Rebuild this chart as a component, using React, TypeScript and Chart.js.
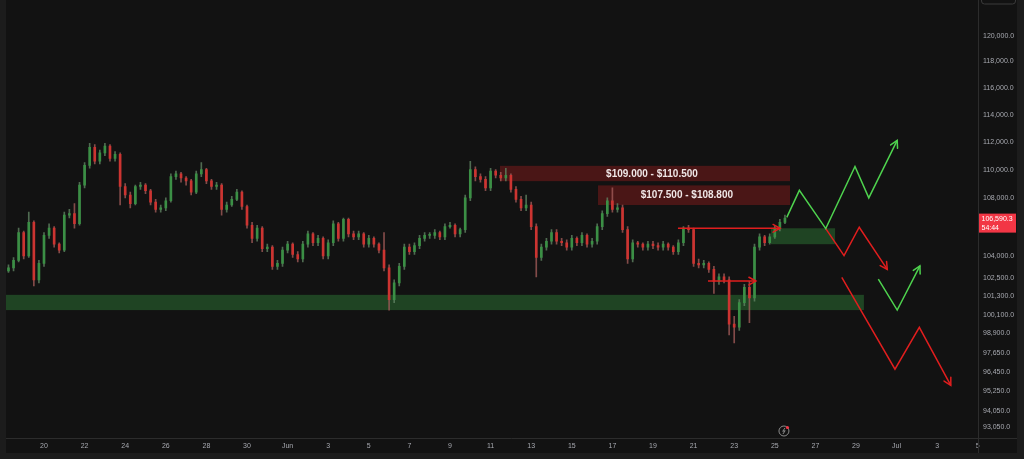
import React, { useEffect, useRef } from "react";
import { Chart, registerables } from "chart.js";

Chart.register(...registerables);

// ---------- data ----------
// candles: 6h bars, prices in thousands of USD; time = days from 20 May 00:00
const candleStartDay = -1.75;
const candleStepDays = 0.25;

const opens = [
  103.0, 103.2, 103.7, 105.6, 104.0, 106.3, 102.4, 103.5, 105.4, 105.9,
  104.8, 104.4, 106.8, 106.9, 106.2, 108.9, 110.3, 111.6, 110.6, 111.2,
  111.7, 110.8, 111.1, 108.8, 108.2, 107.6, 108.8, 108.9, 108.5, 107.7,
  107.2, 107.3, 107.8, 109.5, 109.7, 109.4, 109.2, 108.4, 109.7, 110.0,
  109.2, 108.8, 108.9, 107.2, 107.5, 107.9, 108.4, 107.4, 106.1, 105.2,
  105.9, 104.5, 104.6, 103.3, 103.5, 104.4, 104.8, 104.1, 103.8, 104.8,
  105.5, 104.9, 105.2, 104.0, 104.9, 106.2, 105.2, 106.5, 105.5, 105.3,
  105.5, 104.8, 105.2, 104.8, 104.4, 103.2, 101.1, 102.2, 103.3, 104.6,
  104.3, 104.7, 105.2, 105.4, 105.4, 105.6, 105.3, 106.0, 106.1, 105.5,
  105.8, 108.0, 110.0, 109.5, 109.3, 108.7, 109.9, 109.6, 109.4, 109.6,
  108.6, 107.9, 107.3, 107.5, 106.0, 103.9, 104.6, 105.0, 105.6, 105.0,
  104.9, 104.6, 105.2, 104.9, 105.4, 104.8, 105.0, 106.0, 106.9, 107.8,
  107.2, 107.3, 105.8, 103.8, 104.9, 104.8, 104.6, 104.8, 104.7, 104.6,
  104.8, 104.6, 104.3, 104.9, 105.9, 105.8, 103.5, 103.4, 103.5, 103.1,
  102.3, 102.6, 102.4, 99.5, 99.3, 100.9, 101.9, 101.2, 104.6, 105.3,
  104.9, 105.3, 105.9, 106.3,
];
const highs = [
  103.4, 103.9, 105.9, 105.7, 107.0, 106.4, 103.7, 105.6, 106.2, 106.0,
  104.9, 107.0, 107.2, 107.6, 109.1, 110.5, 111.9, 111.8, 111.4, 111.9,
  111.8, 111.3, 111.2, 109.0, 108.4, 108.9, 109.1, 109.0, 108.6, 107.9,
  107.5, 108.0, 109.7, 109.9, 109.8, 109.5, 109.3, 109.9, 110.5, 110.1,
  109.3, 109.1, 109.0, 107.7, 108.1, 108.6, 108.5, 107.5, 106.3, 106.1,
  106.0, 104.8, 104.7, 103.7, 104.6, 105.0, 104.9, 104.3, 105.0, 105.7,
  105.6, 105.4, 105.3, 105.1, 106.4, 106.3, 106.6, 106.6, 105.7, 105.7,
  105.6, 105.4, 105.3, 104.9, 105.6, 103.4, 102.4, 103.5, 104.8, 104.8,
  104.9, 105.4, 105.6, 105.6, 105.8, 105.7, 106.2, 106.3, 106.2, 105.9,
  108.2, 110.6, 110.2, 109.7, 109.5, 110.1, 110.0, 109.8, 110.1, 109.7,
  108.8, 108.1, 108.2, 107.7, 106.2, 104.8, 105.2, 105.8, 105.8, 105.2,
  105.1, 105.4, 105.3, 105.6, 105.5, 105.2, 106.2, 107.1, 108.0, 108.7,
  107.6, 107.5, 106.0, 105.1, 105.0, 104.9, 105.0, 105.0, 104.9, 105.0,
  104.9, 104.7, 105.1, 106.0, 106.1, 105.9, 103.8, 103.7, 103.6, 103.3,
  102.8, 102.8, 102.6, 100.0, 101.1, 102.1, 102.3, 104.8, 105.5, 105.4,
  105.5, 106.1, 106.5, 106.8,
];
const lows = [
  102.9, 103.0, 103.6, 103.8, 103.9, 102.0, 102.2, 103.3, 105.2, 104.6,
  104.2, 104.3, 106.6, 105.9, 106.1, 108.7, 110.1, 110.4, 110.4, 111.0,
  110.6, 110.6, 107.5, 108.0, 107.3, 107.5, 108.6, 108.3, 107.5, 107.0,
  107.0, 107.1, 107.7, 109.3, 109.1, 108.9, 108.2, 108.3, 109.5, 109.0,
  108.6, 108.6, 106.8, 107.0, 107.4, 107.8, 107.2, 105.9, 104.9, 105.0,
  104.3, 104.3, 103.1, 103.1, 103.3, 104.2, 103.9, 103.6, 103.6, 104.6,
  104.7, 104.7, 103.8, 103.8, 104.7, 105.0, 105.0, 105.3, 105.1, 105.1,
  104.6, 104.6, 104.6, 104.2, 103.0, 100.4, 100.9, 102.0, 103.1, 104.1,
  104.1, 104.5, 105.0, 105.2, 105.2, 105.1, 105.1, 105.9, 105.3, 105.3,
  105.6, 107.8, 109.2, 109.1, 108.5, 108.5, 109.4, 109.2, 109.2, 108.4,
  107.7, 107.1, 107.1, 105.8, 102.6, 103.7, 104.4, 104.8, 104.8, 104.7,
  104.4, 104.4, 104.7, 104.7, 104.6, 104.6, 104.8, 105.8, 106.7, 107.0,
  107.0, 105.6, 103.5, 103.6, 104.6, 104.4, 104.4, 104.5, 104.4, 104.4,
  104.4, 104.1, 104.1, 104.7, 105.6, 103.3, 103.2, 103.2, 102.9, 101.5,
  102.1, 102.2, 98.8, 98.3, 99.1, 100.7, 99.6, 101.0, 104.4, 104.7,
  104.8, 105.2, 105.7, 106.2,
];
const closes = [
  103.2, 103.7, 105.6, 104.0, 106.3, 102.4, 103.5, 105.4, 105.9, 104.8,
  104.4, 106.8, 106.9, 106.2, 108.9, 110.3, 111.6, 110.6, 111.2, 111.7,
  110.8, 111.1, 108.8, 108.2, 107.6, 108.8, 108.9, 108.5, 107.7, 107.2,
  107.3, 107.8, 109.5, 109.7, 109.4, 109.2, 108.4, 109.7, 110.0, 109.2,
  108.8, 108.9, 107.2, 107.5, 107.9, 108.4, 107.4, 106.1, 105.2, 105.9,
  104.5, 104.6, 103.3, 103.5, 104.4, 104.8, 104.1, 103.8, 104.8, 105.5,
  104.9, 105.2, 104.0, 104.9, 106.2, 105.2, 106.5, 105.5, 105.3, 105.5,
  104.8, 105.2, 104.8, 104.4, 103.2, 101.1, 102.2, 103.3, 104.6, 104.3,
  104.7, 105.2, 105.4, 105.4, 105.6, 105.3, 106.0, 106.1, 105.5, 105.8,
  108.0, 110.0, 109.5, 109.3, 108.7, 109.9, 109.6, 109.4, 109.6, 108.6,
  107.9, 107.3, 107.5, 106.0, 103.9, 104.6, 105.0, 105.6, 105.0, 104.9,
  104.6, 105.2, 104.9, 105.4, 104.8, 105.0, 106.0, 106.9, 107.8, 107.2,
  107.3, 105.8, 103.8, 104.9, 104.8, 104.6, 104.8, 104.7, 104.6, 104.8,
  104.6, 104.3, 104.9, 105.9, 105.8, 103.5, 103.4, 103.5, 103.1, 102.3,
  102.6, 102.4, 99.5, 99.3, 100.9, 101.9, 101.2, 104.6, 105.3, 104.9,
  105.3, 105.9, 106.3, 106.59,
];
const priceUnit = 1000;

const currentPrice = 106590.3;
const countdownText = "54:44";

// axes
const xMinDay = -1.872;
const xMaxDay = 46.01;
const xTickDays = [0, 2, 4, 6, 8, 10, 12, 14, 16, 18, 20, 22, 24, 26, 28, 30, 32, 34, 36, 38, 40, 42, 44, 46];
const xTickLabels = ["20", "22", "24", "26", "28", "30", "Jun", "3", "5", "7", "9", "11", "13", "15", "17", "19", "21", "23", "25", "27", "29", "Jul", "3", "5"];
const yMin = 92407;
const yMax = 122077;
const yTickValues = [120000, 118000, 116000, 114000, 112000, 110000, 108000, 104000, 102500, 101300, 100100, 98900, 97650, 96450, 95250, 94050, 93050];

// zones
const zoneStartDays = [xMinDay, 35.81, 22.46, 27.29];
const zoneEndDays = [40.39, 38.97, 36.75, 36.75];
const zoneLowPrices = [100410, 104800, 109180, 107500];
const zoneHighPrices = [101410, 105890, 110270, 108880];
const zoneLabels = ["", "", "$109.000 - $110.500", "$107.500 - $108.800"];
const zoneLabelDays = [0, 0, 29.95, 31.67];

// drawn paths (days, prices)
const greenPath1Days = [36.59, 37.21, 38.51, 39.95, 40.63, 42.03];
const greenPath1Prices = [106640, 108530, 105870, 110220, 108000, 112110];
const redPath1Days = [38.51, 39.41, 40.16, 41.54];
const redPath1Prices = [105870, 104030, 105960, 103100];
const greenPath2Days = [41.10, 42.03, 43.15];
const greenPath2Prices = [102450, 100410, 103330];
const redPath2Days = [39.30, 41.92, 43.12, 44.67];
const redPath2Prices = [102560, 96630, 99290, 95620];
const breakArrow1Days = [31.23, 36.26];
const breakArrow1Prices = [105890, 105890];
const breakArrow2Days = [32.71, 35.07];
const breakArrow2Prices = [102320, 102320];

// ---------- styles ----------
const FRAME = "#1c1c1c";
const PANEL = "#121212";
const SEP = "#2c2c2c";
const TEXT = "#a7a9b0";
const UP = "#3b8f45";
const DOWN = "#cc3431";
const UP_WICK = "rgba(95,130,98,0.8)";
const DOWN_WICK = "rgba(160,90,88,0.8)";
const GREEN_LINE = "#4ed24e";
const RED_LINE = "#e01e1e";
const zoneFills = ["#1f4423", "#1f4423", "#4a1616", "#4a1616"];
const FONT = "'Liberation Sans', Arial, sans-serif";

const pathDefs = [
  { d: greenPath1Days, p: greenPath1Prices, c: GREEN_LINE },
  { d: redPath1Days, p: redPath1Prices, c: RED_LINE },
  { d: greenPath2Days, p: greenPath2Prices, c: GREEN_LINE },
  { d: redPath2Days, p: redPath2Prices, c: RED_LINE },
  { d: breakArrow1Days, p: breakArrow1Prices, c: RED_LINE },
  { d: breakArrow2Days, p: breakArrow2Prices, c: RED_LINE },
];

const fmt = (v: number) =>
  v.toLocaleString("en-US", { minimumFractionDigits: 1, maximumFractionDigits: 1 });

const overlayPlugin = {
  id: "overlay",
  beforeDraw(chart: any) {
    const { ctx, width, height } = chart;
    ctx.save();
    ctx.fillStyle = FRAME;
    ctx.fillRect(0, 0, width, height);
    ctx.fillStyle = PANEL;
    ctx.fillRect(6, 0, width - 13, height - 6);
    ctx.restore();
  },
  beforeDatasetsDraw(chart: any) {
    const { ctx, chartArea: a, scales } = chart;
    const x = scales.x, y = scales.y;
    ctx.save();
    ctx.beginPath();
    ctx.rect(a.left, a.top, a.right - a.left, a.bottom - a.top);
    ctx.clip();
    for (let i = 0; i < zoneStartDays.length; i++) {
      const x0 = x.getPixelForValue(zoneStartDays[i]);
      const x1 = x.getPixelForValue(zoneEndDays[i]);
      const y0 = y.getPixelForValue(zoneHighPrices[i]);
      const y1 = y.getPixelForValue(zoneLowPrices[i]);
      ctx.fillStyle = zoneFills[i];
      ctx.fillRect(x0, y0, x1 - x0, y1 - y0);
      if (zoneLabels[i]) {
        ctx.fillStyle = "#efe6e6";
        ctx.font = `bold 10px ${FONT}`;
        ctx.textAlign = "center";
        ctx.textBaseline = "middle";
        ctx.fillText(zoneLabels[i], x.getPixelForValue(zoneLabelDays[i]), (y0 + y1) / 2 + 0.5);
      }
    }
    ctx.restore();
  },
  afterDatasetsDraw(chart: any) {
    const { ctx, scales } = chart;
    const x = scales.x, y = scales.y;
    ctx.save();
    ctx.lineWidth = 1.5;
    ctx.lineCap = "round";
    for (const pd of pathDefs) {
      const n = pd.d.length;
      const ex = x.getPixelForValue(pd.d[n - 1]);
      const ey = y.getPixelForValue(pd.p[n - 1]);
      const sx = x.getPixelForValue(pd.d[n - 2]);
      const sy = y.getPixelForValue(pd.p[n - 2]);
      const ang = Math.atan2(ey - sy, ex - sx);
      const L = 8;
      const spread = 0.5;
      ctx.strokeStyle = pd.c;
      ctx.beginPath();
      ctx.moveTo(ex - L * Math.cos(ang - spread), ey - L * Math.sin(ang - spread));
      ctx.lineTo(ex, ey);
      ctx.lineTo(ex - L * Math.cos(ang + spread), ey - L * Math.sin(ang + spread));
      ctx.stroke();
    }
    ctx.restore();
  },
  afterDraw(chart: any) {
    const { ctx, chartArea: a, scales, width, height } = chart;
    const x = scales.x, y = scales.y;
    ctx.save();
    // separators
    ctx.strokeStyle = SEP;
    ctx.lineWidth = 1;
    ctx.beginPath();
    ctx.moveTo(6, Math.round(a.bottom) + 0.5);
    ctx.lineTo(width - 7, Math.round(a.bottom) + 0.5);
    ctx.moveTo(Math.round(a.right) + 0.5, 0);
    ctx.lineTo(Math.round(a.right) + 0.5, height - 6);
    ctx.stroke();
    // top-right button outline
    ctx.strokeStyle = "#3a3a3a";
    ctx.beginPath();
    (ctx as any).roundRect(a.right + 3.5, -8, 34, 12, 3);
    ctx.stroke();
    // current price label
    const py = y.getPixelForValue(currentPrice);
    ctx.fillStyle = "#f23645";
    ctx.fillRect(a.right + 1, py - 4.5, 37, 19);
    ctx.fillStyle = "#ffffff";
    ctx.font = `7px ${FONT}`;
    ctx.textAlign = "left";
    ctx.textBaseline = "middle";
    ctx.fillText(fmt(currentPrice), a.right + 3.5, py + 0.5);
    ctx.fillText(countdownText, a.right + 3.5, py + 9.5);
    // small lightning icon near latest candle
    const lastDay = candleStartDay + candleStepDays * (closes.length - 1);
    const ix = x.getPixelForValue(lastDay) - 1;
    const iy = a.bottom - 7;
    ctx.strokeStyle = "#8a8a8a";
    ctx.lineWidth = 1;
    ctx.beginPath();
    ctx.arc(ix, iy, 5, 0, Math.PI * 2);
    ctx.stroke();
    ctx.beginPath();
    ctx.moveTo(ix + 1, iy - 3);
    ctx.lineTo(ix - 1.2, iy + 0.3);
    ctx.lineTo(ix + 1.2, iy - 0.3);
    ctx.lineTo(ix - 1, iy + 3);
    ctx.stroke();
    ctx.fillStyle = "#f23645";
    ctx.beginPath();
    ctx.arc(ix + 3.5, iy - 3.5, 1.6, 0, Math.PI * 2);
    ctx.fill();
    ctx.restore();
  },
};

export default function App() {
  const ref = useRef<HTMLCanvasElement | null>(null);

  useEffect(() => {
    if (!ref.current) return;
    const days = closes.map((_, i) => candleStartDay + candleStepDays * i);
    const wickData = days.map((d, i) => ({ x: d, y: [lows[i] * priceUnit, highs[i] * priceUnit] }));
    const bodyData = days.map((d, i) => ({ x: d, y: [opens[i] * priceUnit, closes[i] * priceUnit] }));
    const isUp = (i: number) => closes[i] >= opens[i];

    const lineSets = pathDefs.map((pd) => ({
      type: "line" as const,
      data: pd.d.map((d, i) => ({ x: d, y: pd.p[i] })),
      borderColor: pd.c,
      borderWidth: 1.5,
      pointRadius: 0,
      tension: 0,
      fill: false,
      order: 0,
    }));

    const chart = new Chart(ref.current, {
      type: "bar",
      data: {
        datasets: [
          {
            type: "bar",
            data: wickData as any,
            backgroundColor: (c: any) => (isUp(c.dataIndex) ? UP_WICK : DOWN_WICK),
            barThickness: 1,
            grouped: false,
            borderWidth: 0,
            order: 3,
          },
          {
            type: "bar",
            data: bodyData as any,
            backgroundColor: (c: any) => (isUp(c.dataIndex) ? UP : DOWN),
            barThickness: 2,
            minBarLength: 1,
            grouped: false,
            borderWidth: 0,
            order: 2,
          },
          ...(lineSets as any[]),
        ],
      },
      options: {
        responsive: false,
        animation: false,
        events: [],
        layout: { padding: { left: 6, right: 7, top: 0, bottom: 6 } },
        plugins: { legend: { display: false }, tooltip: { enabled: false } },
        scales: {
          x: {
            type: "linear",
            min: xMinDay,
            max: xMaxDay,
            offset: false,
            grid: { display: false, drawTicks: false },
            border: { display: false },
            afterBuildTicks: (s: any) => {
              s.ticks = xTickDays.map((v) => ({ value: v }));
            },
            afterFit: (s: any) => {
              s.height = 15;
            },
            ticks: {
              autoSkip: false,
              maxRotation: 0,
              padding: 4,
              color: TEXT,
              font: { size: 7, family: FONT },
              callback: (v: any) => {
                const k = xTickDays.indexOf(Number(v));
                return k >= 0 ? xTickLabels[k] : "";
              },
            },
          },
          y: {
            type: "logarithmic",
            position: "right",
            min: yMin,
            max: yMax,
            grid: { display: false, drawTicks: false },
            border: { display: false },
            afterBuildTicks: (s: any) => {
              s.ticks = yTickValues.map((v) => ({ value: v }));
            },
            afterFit: (s: any) => {
              s.width = 39;
            },
            ticks: {
              autoSkip: false,
              padding: 5,
              color: TEXT,
              font: { size: 7, family: FONT },
              callback: (v: any) => fmt(Number(v)),
            },
          },
        },
      } as any,
      plugins: [overlayPlugin],
    });
    return () => chart.destroy();
  }, []);

  return (
    <div style={{ position: "fixed", left: 0, top: 0, width: 1024, height: 459, background: FRAME }}>
      <canvas ref={ref} width={1024} height={459} style={{ display: "block", width: 1024, height: 459 }} />
    </div>
  );
}
